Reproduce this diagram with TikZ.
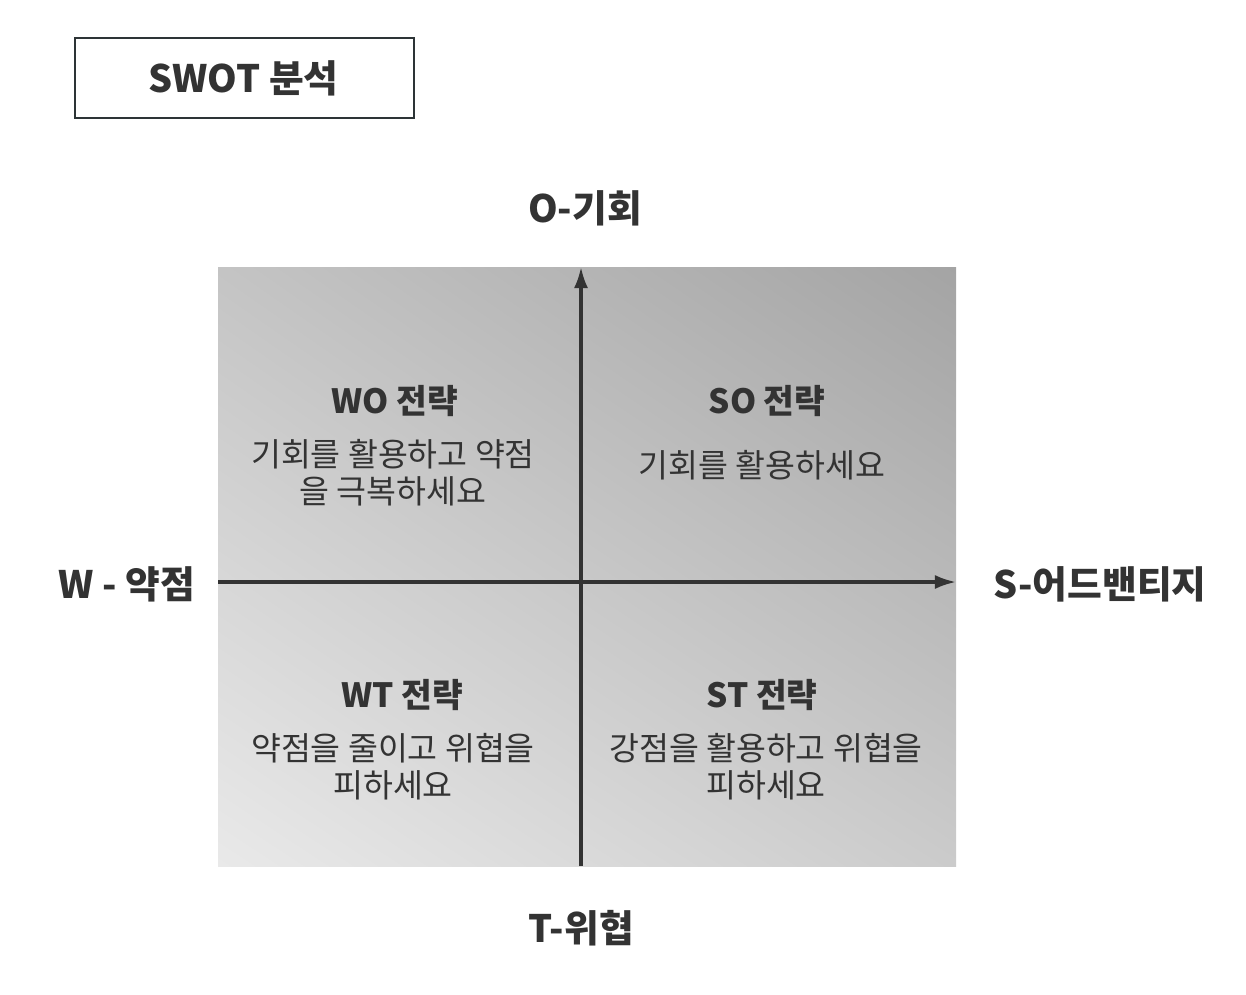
\documentclass[tikz,border=0pt]{standalone}
\usepackage{fontspec}
\setmainfont{Noto Sans CJK KR}
\usetikzlibrary{arrows.meta,shadings}
\tikzset {>={Latex[length=12pt,width=8pt]}}
\definecolor{ink}{HTML}{333333}
\definecolor{boxline}{HTML}{2D3436}
\definecolor{shadeLL}{HTML}{E9E9E9}
\definecolor{shadeUR}{HTML}{A4A4A4}
\definecolor{shadeUL}{HTML}{C4C4C4}
\definecolor{shadeLR}{HTML}{CBCBCB}
\tikzset{axislabel/.style={text=ink,font=\fontsize{21.5pt}{25pt}\selectfont\bfseries},
  quadtitle/.style={text=ink,font=\fontsize{19pt}{22pt}\selectfont\bfseries},
  quadtext/.style={text=ink,align=center,font=\fontsize{18.5pt}{21pt}\selectfont}}

\begin{document}
\begin{tikzpicture}
\useasboundingbox (0,0) rectangle (24.92,-19.88);
% title box
\draw[boxline,line width=1.2pt] (1.5,-0.76) rectangle (8.28,-2.36);
\node[axislabel] (title) at (4.87,-1.56) {SWOT 분석};
% quadrant field
\shade[lower left=shadeLL,upper right=shadeUR,upper left=shadeUL,lower right=shadeLR]
  (4.36,-5.34) rectangle (19.12,-17.32);
\coordinate (Tend) at (11.62,-17.32);
\coordinate (Oend) at (11.62,-5.34);
\coordinate (Wend) at (4.36,-11.64);
\coordinate (Send) at (19.12,-11.64);
\draw[->,ink,line width=1.8pt] (Tend) -- (Oend);
\draw[->,ink,line width=1.8pt] (Wend) -- (Send);
% axis labels
\node[axislabel] (O) at (11.7,-4.16) {O-기회};
\node[axislabel] (T) at (11.62,-18.56) {T-위협};
\node[axislabel] (W) at (2.54,-11.68) {W - 약점};
\node[axislabel] (S) at (22.0,-11.68) {S-어드밴티지};
% quadrants
\node[quadtitle] (WO) at (7.9,-8.02) {WO 전략};
\node[quadtext] (WOtext) at (7.86,-9.46) {기회를 활용하고 약점\\을 극복하세요};
\node[quadtitle] (SO) at (15.34,-8.02) {SO 전략};
\node[quadtext] (SOtext) at (15.24,-9.3) {기회를 활용하세요};
\node[quadtitle] (WT) at (8.04,-13.9) {WT 전략};
\node[quadtext] (WTtext) at (7.86,-15.34) {약점을 줄이고 위협을\\피하세요};
\node[quadtitle] (ST) at (15.24,-13.9) {ST 전략};
\node[quadtext] (STtext) at (15.32,-15.34) {강점을 활용하고 위협을\\피하세요};
\end{tikzpicture}
\end{document}
